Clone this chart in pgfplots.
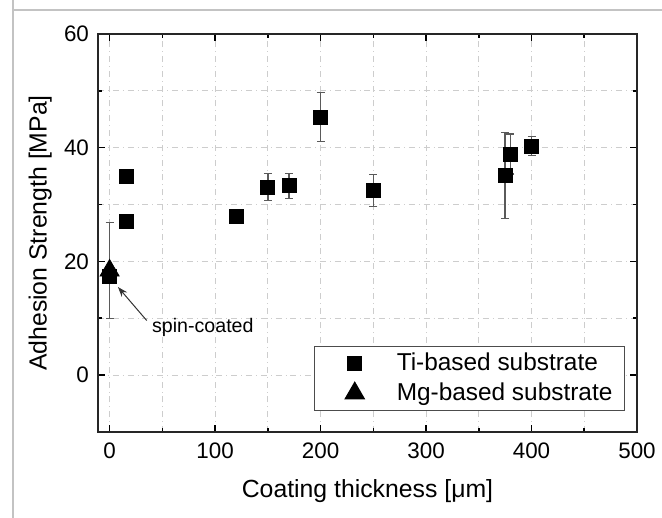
\documentclass[border=0pt]{standalone}
\usepackage{fontspec}
\setmainfont{Liberation Sans}
\usepackage{pgfplots}
\pgfplotsset{compat=1.18}
\usetikzlibrary{arrows.meta}

\definecolor{errgray}{RGB}{90,90,90}
\definecolor{gridgray}{RGB}{205,205,205}
\definecolor{framegray}{RGB}{195,195,195}

% x, y, error
\pgfplotstableread{
x y e
0 17.4 0
16 35.0 0
16 27.0 0
120 28.0 0
150 33.1 2.4
170 33.3 2.2
200 45.4 4.35
250 32.5 2.8
375 35.1 7.6
380 38.9 3.5
400 40.3 1.7
}\tidata

\pgfplotstableread{
x y e
0 18.4 8.4
}\mgdata

\begin{document}
\begin{tikzpicture}
\begin{axis}[
  scale only axis,
  width=269.5pt, height=199pt,
  xmin=-11, xmax=500, ymin=-10, ymax=60,
  xtick={0,100,...,500}, ytick={0,20,40,60},
  minor x tick num=1, minor y tick num=1,
  tick align=inside,
  major tick length=3.5pt, minor tick length=2pt,
  tick style={black, line width=0.8pt},
  axis line style={line width=0.8pt, black!85},
  grid=both,
  major grid style={gridgray, dash dot, line width=0.4pt},
  minor grid style={gridgray, dash dot, line width=0.4pt},
  ticklabel style={font=\fontsize{11.2}{13}\selectfont},
  /pgf/number format/assume math mode=true,
  xticklabel style={yshift=-2pt},
  yticklabel style={xshift=-1pt},
  xlabel={Coating thickness [μm]},
  ylabel={Adhesion Strength [MPa]},
  label style={font=\fontsize{12.4}{14}\selectfont},
  xlabel style={at={(axis description cs:0.5,-0.148)}, anchor=center},
  ylabel style={at={(axis description cs:-0.107,0.5)}, anchor=center},
  legend cell align=left,
  legend style={at={(rel axis cs:1,0)}, anchor=south east,
    xshift=-6pt, yshift=10.5pt,
    draw=black!70, line width=0.6pt,
    font=\fontsize{12.2}{14}\selectfont,
    inner xsep=3pt, inner ysep=2.5pt, row sep=3pt,
    nodes={inner xsep=3pt, inner ysep=0pt, text height=9.5pt, text depth=2.5pt}},
  legend image code/.code={
    \path[draw=none, fill=none] (-17pt,0pt) -- (18pt,0pt);
    \draw[#1] plot coordinates {(0pt,0pt)};},
]
\addplot[only marks, mark=square*, mark size=3.5pt, black,
  error bars/.cd, y dir=both, y explicit,
  error bar style={errgray, line width=0.7pt},
  error mark options={errgray, rotate=90, mark size=2pt, line width=0.7pt}]
  table[x=x, y=y, y error=e] {\tidata};
\addlegendentry{Ti-based substrate}
\addplot[only marks, mark=triangle*, mark size=5.5pt, black,
  error bars/.cd, y dir=both, y explicit,
  error bar style={errgray, line width=0.7pt},
  error mark options={errgray, rotate=90, mark size=2pt, line width=0.7pt}]
  table[x=x, y=y, y error=e] {\mgdata};
\addlegendentry{Mg-based substrate}

\draw[-{Stealth[length=5pt, width=3.5pt]}, line width=0.5pt, black!80]
  (axis cs:35.2,9.6) -- (axis cs:7.9,15.5);
\node[anchor=west, font=\fontsize{9.8}{11}\selectfont, inner sep=0pt]
  at (axis cs:40,8.4) {spin-coated};
\end{axis}
\pgfresetboundingbox
\path[use as bounding box]
  ([shift={(-49pt,-43pt)}]current axis.south west) coordinate (A)
  rectangle ([shift={(12.5pt,17pt)}]current axis.north east) coordinate (B);
\draw[framegray, line width=1pt]
  ([xshift=6.3pt]A) -- ([xshift=6.3pt]A |- B) ++(0,-5pt) -- ([yshift=-5pt]B);
\end{tikzpicture}
\end{document}
